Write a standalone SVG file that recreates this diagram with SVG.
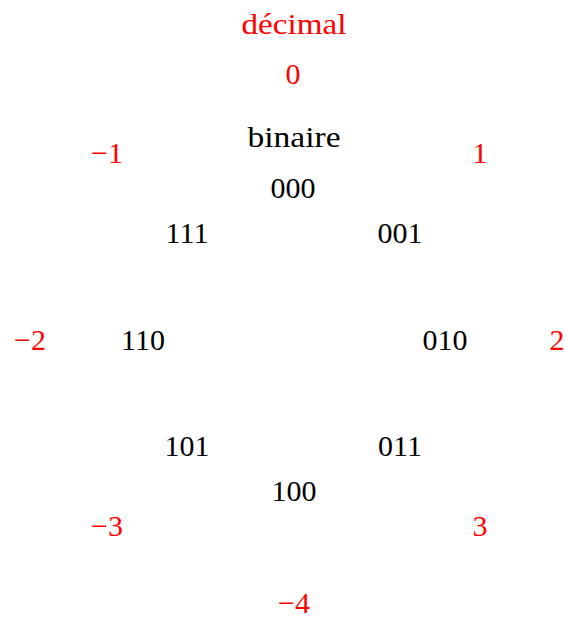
<svg xmlns="http://www.w3.org/2000/svg" width="565" height="619" viewBox="0 0 565 619">
<style>
text{font-family:"Liberation Serif","DejaVu Serif",serif;font-size:30px;text-anchor:middle}
.d{fill:#ff0000}
.b{fill:#000000}
</style>
<rect width="565" height="619" fill="#ffffff"/>
<g id="titles">
<text class="d" x="294" y="34" textLength="105" lengthAdjust="spacingAndGlyphs">décimal</text>
<text class="b" x="294" y="147" textLength="93" lengthAdjust="spacingAndGlyphs">binaire</text>
</g>
<g id="connectors"></g>
<g id="n0"><text class="d" x="293" y="84">0</text><text class="b" x="293" y="198">000</text></g>
<g id="n1"><text class="d" x="480" y="163">1</text><text class="b" x="400" y="243">001</text></g>
<g id="n2"><text class="d" x="557" y="350">2</text><text class="b" x="445" y="350">010</text></g>
<g id="n3"><text class="d" x="480" y="536">3</text><text class="b" x="400" y="456">011</text></g>
<g id="n4"><text class="d" x="294" y="613">−4</text><text class="b" x="294" y="501">100</text></g>
<g id="n5"><text class="d" x="107" y="536">−3</text><text class="b" x="187" y="456">101</text></g>
<g id="n6"><text class="d" x="30" y="350">−2</text><text class="b" x="143" y="350">110</text></g>
<g id="n7"><text class="d" x="107" y="163">−1</text><text class="b" x="187" y="243">111</text></g>
</svg>
